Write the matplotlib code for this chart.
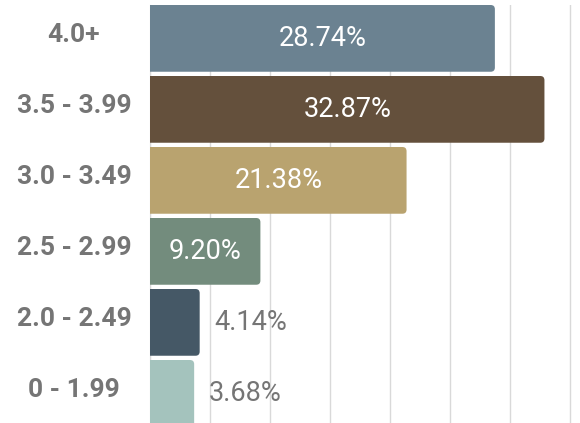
import matplotlib.pyplot as plt
import matplotlib.transforms as mtransforms
from matplotlib.patches import FancyBboxPatch

plt.rcParams['font.family'] = ['Roboto', 'DejaVu Sans']

categories = ['4.0+', '3.5 - 3.99', '3.0 - 3.49', '2.5 - 2.99', '2.0 - 2.49', '0 - 1.99']
values = [28.74, 32.87, 21.38, 9.20, 4.14, 3.68]
colors = ['#6b8291', '#64503c', '#b9a36f', '#738c7d', '#455866', '#a4c3bd']
labels = ['28.74%', '32.87%', '21.38%', '9.20%', '4.14%', '3.68%']

W, H = 580, 423
fig = plt.figure(figsize=(W / 100, H / 100), dpi=100)
# axes: x from 150px to 575px, top at 5px, 71px per category
ax = fig.add_axes([150 / W, (H - 5 - 6 * 71) / H, 425 / W, 6 * 71 / H])
ax.set_xlim(0, 425 / 12)
# first bar sits flush with the top of the grid
ax.set_ylim(5.53, -0.47)

bars = ax.barh(range(len(values)), values, height=0.94, color=colors)
# swap the plain bars for ones with rounded right corners
for b in bars:
    x, y = b.get_x(), b.get_y()
    w, h = b.get_width(), b.get_height()
    b.set_visible(False)
    p = FancyBboxPatch((x - 1, y), w + 1, h,
                       boxstyle='round,pad=0,rounding_size=0.35',
                       mutation_aspect=12 / 71,
                       facecolor=b.get_facecolor(), edgecolor='none', zorder=3)
    ax.add_patch(p)

for i, (v, lab) in enumerate(zip(values, labels)):
    if v > 8:
        ax.text(v / 2, i, lab, ha='center', va='center', color='white',
                fontsize=19.5, zorder=4)
    else:
        ax.text(v + 1.25, i, lab, ha='left', va='center', color='#757575',
                fontsize=19.5, zorder=4)

# category labels centred at x = 74px, a touch above the bar centre
trans = mtransforms.blended_transform_factory(
    mtransforms.IdentityTransform(), ax.transData)
for i, c in enumerate(categories):
    ax.text(74, i - 0.05, c, transform=trans, ha='center', va='center',
            color='#757575', fontsize=19, fontweight='bold', clip_on=False)

ax.set_xticks(range(0, 40, 5))
ax.grid(axis='x', color='#d9d9d9', linewidth=1, zorder=0)
ax.set_axisbelow(True)
for s in ['top', 'right', 'bottom']:
    ax.spines[s].set_visible(False)
ax.spines['left'].set_color('#d9d9d9')
ax.tick_params(length=0, labelbottom=False, labelleft=False)

fig.savefig('out.png', dpi=100)
